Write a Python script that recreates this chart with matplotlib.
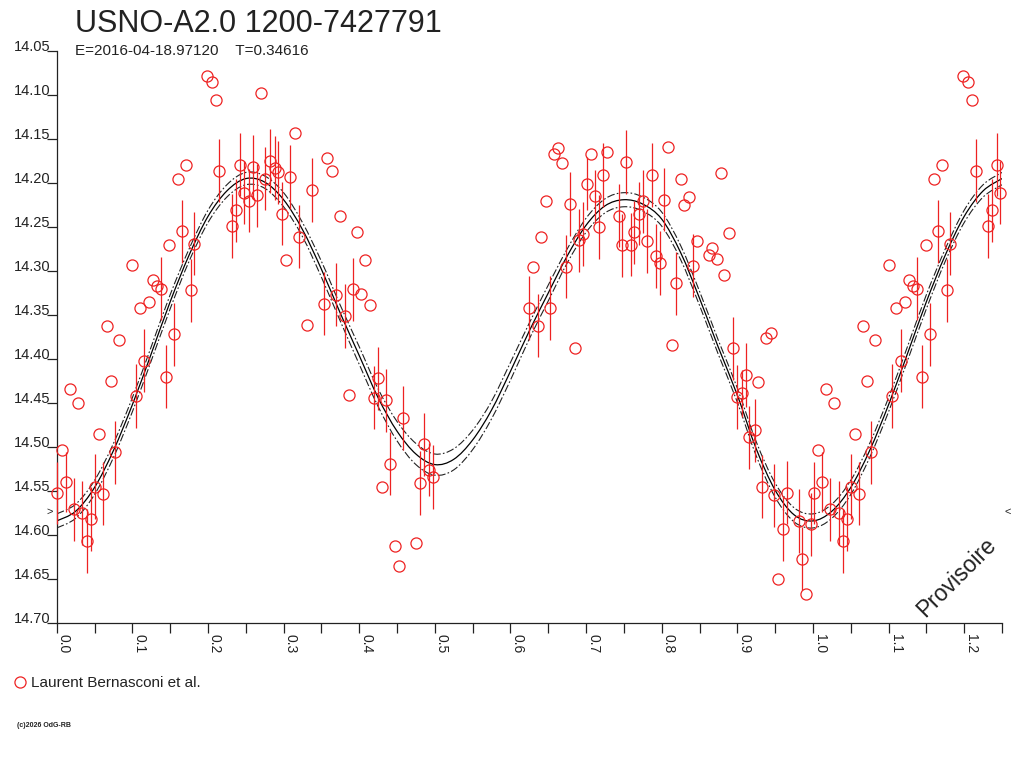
import numpy as np
import matplotlib
matplotlib.use("Agg")
import matplotlib.pyplot as plt
import matplotlib.transforms as mtransforms
from matplotlib.path import Path
from matplotlib.patches import PathPatch

plt.rcParams['font.family'] = ['Liberation Sans', 'DejaVu Sans']

star_name = "USNO-A2.0 1200-7427791"
epoch_text = "E=2016-04-18.97120    T=0.34616"
observer = "Laurent Bernasconi et al."
credit = "(c)2026 OdG-RB"

# observations, phase 0..1 (repeated up to 1.25 on the plot)
phase = [0.001, 0.007, 0.012, 0.017, 0.028, 0.023, 0.034, 0.040, 0.045, 0.051,
         0.061, 0.056, 0.072, 0.077, 0.082, 0.105, 0.116, 0.144, 0.199, 0.205,
         0.210, 0.171, 0.160, 0.166, 0.181, 0.149, 0.177, 0.100, 0.127, 0.132,
         0.138, 0.122, 0.110, 0.066, 0.155, 0.215, 0.243, 0.259, 0.282, 0.288,
         0.292, 0.276, 0.309, 0.270, 0.315, 0.358, 0.364, 0.337, 0.248, 0.254,
         0.265, 0.237, 0.232, 0.298, 0.320, 0.375, 0.397, 0.303, 0.408, 0.353,
         0.369, 0.392, 0.403, 0.414, 0.381, 0.331, 0.425, 0.386, 0.419, 0.436,
         0.458, 0.441, 0.430, 0.486, 0.481, 0.492, 0.497, 0.447, 0.475, 0.452,
         0.663, 0.658, 0.668, 0.707, 0.723, 0.728, 0.753, 0.808, 0.787, 0.825,
         0.647, 0.679, 0.712, 0.717, 0.701, 0.836, 0.830, 0.803, 0.775, 0.743,
         0.770, 0.641, 0.690, 0.696, 0.764, 0.748, 0.759, 0.781, 0.847, 0.841,
         0.792, 0.798, 0.630, 0.674, 0.819, 0.625, 0.652, 0.636, 0.685, 0.814,
         0.878, 0.889, 0.867, 0.862, 0.873, 0.883, 0.894, 0.944, 0.938, 0.911,
         0.927, 0.900, 0.906, 0.923, 0.916, 0.933, 0.948, 0.966, 0.960, 0.981,
         0.997, 0.986, 0.991, 0.954]
mag = [14.552, 14.503, 14.540, 14.434, 14.450, 14.571, 14.575, 14.607, 14.582, 14.545,
       14.553, 14.485, 14.425, 14.506, 14.378, 14.442, 14.402, 14.420, 14.078, 14.085,
       14.106, 14.179, 14.196, 14.255, 14.269, 14.270, 14.322, 14.293, 14.310, 14.317,
       14.320, 14.335, 14.342, 14.362, 14.372, 14.186, 14.179, 14.182, 14.175, 14.183,
       14.188, 14.195, 14.193, 14.098, 14.143, 14.172, 14.186, 14.208, 14.211, 14.220,
       14.214, 14.231, 14.249, 14.235, 14.261, 14.238, 14.256, 14.288, 14.288, 14.337,
       14.327, 14.321, 14.326, 14.339, 14.351, 14.361, 14.422, 14.441, 14.444, 14.447,
       14.467, 14.519, 14.546, 14.497, 14.541, 14.526, 14.534, 14.613, 14.609, 14.635,
       14.160, 14.167, 14.177, 14.167, 14.191, 14.165, 14.176, 14.159, 14.191, 14.195,
       14.220, 14.224, 14.215, 14.250, 14.201, 14.216, 14.225, 14.219, 14.221, 14.237,
       14.235, 14.261, 14.265, 14.258, 14.256, 14.271, 14.270, 14.266, 14.266, 14.294,
       14.283, 14.291, 14.295, 14.295, 14.314, 14.342, 14.342, 14.362, 14.388, 14.384,
       14.189, 14.257, 14.274, 14.282, 14.286, 14.305, 14.388, 14.370, 14.376, 14.418,
       14.426, 14.443, 14.439, 14.481, 14.489, 14.545, 14.555, 14.552, 14.593, 14.584,
       14.588, 14.627, 14.667, 14.650]
mag_err = [0.035, 0, 0.034, 0, 0, 0.036, 0.036, 0.036, 0.036, 0.037,
           0.036, 0, 0, 0.036, 0, 0.036, 0.036, 0.036, 0, 0,
           0, 0, 0, 0.036, 0.036, 0, 0.036, 0, 0, 0,
           0.036, 0, 0, 0, 0.036, 0.036, 0.036, 0.036, 0.036, 0.036,
           0.036, 0.036, 0.036, 0, 0, 0, 0, 0.036, 0.036, 0.036,
           0.036, 0.036, 0.036, 0.036, 0.036, 0, 0, 0, 0, 0.036,
           0.036, 0.036, 0, 0, 0.036, 0, 0.036, 0, 0.036, 0.036,
           0.036, 0.036, 0, 0.036, 0.036, 0.030, 0.036, 0, 0, 0,
           0, 0, 0, 0, 0.036, 0, 0.036, 0, 0.036, 0,
           0, 0.036, 0.030, 0.036, 0.030, 0, 0, 0.036, 0.036, 0.036,
           0.036, 0, 0.036, 0.036, 0.036, 0.036, 0.036, 0.036, 0, 0.036,
           0.036, 0.036, 0, 0.036, 0.036, 0.036, 0.036, 0.036, 0, 0,
           0, 0, 0, 0, 0, 0, 0.036, 0, 0, 0.036,
           0, 0.036, 0.027, 0.036, 0.036, 0.036, 0.036, 0.036, 0.036, 0.036,
           0.036, 0.036, 0, 0]

# fitted light curve, every 0.025 in phase
model_phase = np.linspace(0.0, 1.0, 41)
model_mag = [14.584, 14.573, 14.546, 14.504, 14.452, 14.394, 14.335, 14.282, 14.238, 14.209,
             14.195, 14.199, 14.219, 14.253, 14.298, 14.348, 14.396, 14.444, 14.482, 14.508,
             14.520, 14.514, 14.492, 14.458, 14.414, 14.368, 14.325, 14.283, 14.248, 14.226,
             14.219, 14.224, 14.241, 14.279, 14.331, 14.387, 14.441, 14.502, 14.549, 14.577,
             14.584]
model_err = [0.008, 0.008, 0.008, 0.008, 0.008, 0.008, 0.008, 0.007, 0.007, 0.007,
             0.007, 0.007, 0.008, 0.008, 0.009, 0.009, 0.010, 0.010, 0.011, 0.012,
             0.012, 0.012, 0.011, 0.010, 0.010, 0.009, 0.009, 0.008, 0.008, 0.008,
             0.008, 0.008, 0.008, 0.008, 0.008, 0.008, 0.008, 0.008, 0.008, 0.008,
             0.008]
min_level = 14.574
phase_max = 1.25

# repeat the cycle past phase 1
ph = np.array(phase)
m = np.array(mag)
e = np.array(mag_err)
extra = ph + 1 <= phase_max
ph_all = np.concatenate([ph, ph[extra] + 1])
m_all = np.concatenate([m, m[extra]])
e_all = np.concatenate([e, e[extra]])

mp = np.array(model_phase)
mm = np.array(model_mag)
me = np.array(model_err)
more = (mp > 0) & (mp + 1 <= phase_max + 1e-9)
mp_all = np.concatenate([mp, mp[more] + 1])
mm_all = np.concatenate([mm, mm[more]])
me_all = np.concatenate([me, me[more]])


def smooth_path(x, y):
    # Catmull-Rom through the read points, drawn as cubic Bezier segments
    pts = np.column_stack([x, y])
    ext = np.vstack([pts[0], pts, pts[-1]])
    verts = [pts[0]]
    codes = [Path.MOVETO]
    for i in range(1, len(ext) - 2):
        p0, p1, p2, p3 = ext[i - 1], ext[i], ext[i + 1], ext[i + 2]
        verts += [p1 + (p2 - p0) / 6, p2 - (p3 - p1) / 6, p2]
        codes += [Path.CURVE4] * 3
    return Path(verts, codes)


ink = '#222222'
fig = plt.figure(figsize=(10.24, 7.68), dpi=100)
ax = fig.add_axes([0.0554, 0.1888, 0.9231, 0.7448])

ax.add_patch(PathPatch(smooth_path(mp_all, mm_all), fill=False, ec='black', lw=0.9, zorder=2))
for sign in (-1, 1):
    ax.add_patch(PathPatch(smooth_path(mp_all, mm_all + sign * me_all), fill=False, ec=ink,
                           lw=0.8, ls=(0, (7, 2, 1.5, 2)), zorder=2))

ax.errorbar(ph_all, m_all, yerr=e_all, fmt='none', ecolor='#ee2222', elinewidth=0.9,
            capsize=0, zorder=3, clip_on=False)
ax.plot(ph_all, m_all, 'o', mfc='none', mec='#ee2222', ms=8, mew=0.9,
        label=observer, zorder=4, clip_on=False)

ax.set_xlim(0, phase_max)
ax.set_ylim(14.70, 14.05)

for side in ['top', 'right']:
    ax.spines[side].set_visible(False)
for side in ['left', 'bottom']:
    ax.spines[side].set_color(ink)
    ax.spines[side].set_linewidth(0.9)

xt = np.round(np.arange(0, 1.21, 0.1), 2)
ax.set_xticks(xt)
ax.set_xticks(np.round(np.arange(0.05, 1.26, 0.1), 2), minor=True)
ax.set_xticklabels(['%.1f' % v for v in xt], rotation=-90, ha='left', fontsize=10, color=ink)
ax.tick_params(axis='x', which='both', direction='out', length=7, width=0.9, color=ink, pad=1)

yt = np.round(np.arange(14.05, 14.701, 0.05), 2)
ax.set_yticks(yt)
ax.tick_params(axis='y', direction='out', length=7, width=0.9, color=ink, labelleft=False)
trans = mtransforms.blended_transform_factory(ax.transAxes, ax.transData)
for v in yt:
    ax.text(-0.0065, v, '%.2f' % v, transform=trans, ha='right', va='baseline',
            fontsize=10.5, color=ink)

ax.text(-0.004, min_level, '>', transform=trans, ha='right', va='center', fontsize=8, color=ink)
ax.text(1.003, min_level, '<', transform=trans, ha='left', va='center', fontsize=8, color=ink)

ax.text(0.952, 0.080, 'Provisoire', transform=ax.transAxes, rotation=45,
        ha='center', va='center', fontsize=16.5, color=ink)

fig.text(0.073, 0.958, star_name, fontsize=22, color=ink, va='baseline')
fig.text(0.073, 0.929, epoch_text, fontsize=11, color=ink, va='baseline')

ax.legend(loc='center left', bbox_to_anchor=(0.006, 1 - 683 / 768), bbox_transform=fig.transFigure,
          frameon=False, fontsize=11, handlelength=0.8, handletextpad=0.3, borderpad=0,
          labelcolor=ink)
fig.text(0.017, 1 - 727 / 768, credit, fontsize=5, color=ink, va='baseline', weight='bold')

fig.savefig('out.png', dpi=100)
